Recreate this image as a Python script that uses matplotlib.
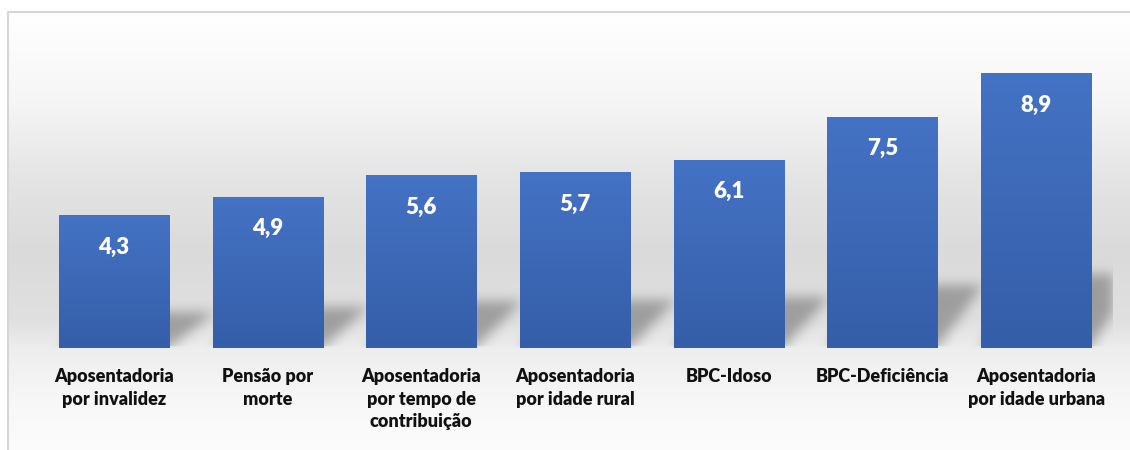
import numpy as np
import matplotlib
matplotlib.use('Agg')
import matplotlib.pyplot as plt
from matplotlib.colors import LinearSegmentedColormap

categorias = ['Aposentadoria\npor invalidez', 'Pensão por\nmorte',
              'Aposentadoria\npor tempo de\ncontribuição', 'Aposentadoria\npor idade rural',
              'BPC-Idoso', 'BPC-Deficiência', 'Aposentadoria\npor idade urbana']
valores = [4.3, 4.9, 5.6, 5.7, 6.1, 7.5, 8.9]
rotulos = ['4,3', '4,9', '5,6', '5,7', '6,1', '7,5', '8,9']

plt.rcParams['font.family'] = ['Lato', 'DejaVu Sans']

W, H = 1130, 450
fig = plt.figure(figsize=(W / 100, H / 100), dpi=100)

# fundo em gradiente vertical (branco -> cinza -> branco)
bg = fig.add_axes([0, 0, 1, 1], zorder=0)
yy = np.arange(H)
stops_y = [0, 12, 100, 180, 250, 320, 350, 400, 450]
stops_c = [255, 255, 246, 228, 218, 224, 238, 247, 252]
col = np.interp(yy, stops_y, stops_c) / 255.0
img = np.ones((H, W, 3)) * col[:, None, None]
img[:12, :, :] = 1.0
img[:, :7, :] = 1.0
bg.imshow(img, aspect='auto', extent=(0, W, H, 0), interpolation='bilinear')
bg.plot([7.5, 7.5, W], [H, 11.5, 11.5], color='#d6d6d6', lw=1.5)
bg.set_xlim(0, W)
bg.set_ylim(H, 0)
bg.axis('off')

ax = fig.add_axes([37 / W, 101.5 / H, 1076 / W, 308 / H], zorder=1)
ax.patch.set_alpha(0)
x = np.arange(len(valores))
largura = 0.716
ax.set_xlim(-0.5, len(valores) - 0.5)
ax.set_ylim(0, 10)

# sombras das barras (paralelogramos desfocados)
nx, ny = 1076, 308
gx = np.linspace(-0.5, len(valores) - 0.5, nx)
gy = np.linspace(0, 10, ny)
GX, GY = np.meshgrid(gx, gy)
mask = np.zeros((ny, nx))
for xi, v in zip(x, valores):
    hs = v * 0.27
    desl = 0.30
    t = GY / hs
    dentro = (GY >= 0) & (GY <= hs)
    x0 = xi - largura / 2 + desl * t
    x1 = xi + largura / 2 + desl * t
    mask[dentro & (GX >= x0) & (GX <= x1)] = 1.0
k = np.exp(-0.5 * (np.arange(-15, 16) / 6.0) ** 2)
k /= k.sum()
mask = np.apply_along_axis(lambda r: np.convolve(r, k, mode='same'), 1, mask)
mask = np.apply_along_axis(lambda c: np.convolve(c, k, mode='same'), 0, mask)
mask[:2, :] *= 0.3
sombra = np.zeros((ny, nx, 4))
sombra[..., :3] = 0.45
sombra[..., 3] = mask * 0.6
ax.imshow(sombra, origin='lower', aspect='auto',
          extent=(-0.5, len(valores) - 0.5, 0, 10), zorder=1)

# barras com gradiente azul
cmap = LinearSegmentedColormap.from_list('azul', ['#355ea8', '#4472c4'])
grad = np.linspace(0, 1, 256).reshape(-1, 1)
barras = ax.bar(x, valores, width=largura, color='none', zorder=2)
for b in barras:
    bx, by = b.get_x(), b.get_y()
    bw, bh = b.get_width(), b.get_height()
    ax.imshow(grad, cmap=cmap, origin='lower', aspect='auto',
              extent=(bx, bx + bw, by, by + bh), zorder=2)

for xi, v, r in zip(x, valores, rotulos):
    ax.annotate(r, (xi, v), xytext=(0, -31), textcoords='offset pixels',
                ha='center', va='center', color='white', fontsize=16, fontweight='heavy', zorder=3)

ax.set_xticks(x)
ax.set_xticklabels(categorias, fontsize=13, fontweight='heavy', color='#111111',
                   linespacing=1.4, va='top')
ax.tick_params(axis='x', length=0, pad=14)
ax.set_yticks([])
for s in ax.spines.values():
    s.set_visible(False)

fig.savefig('out.png', dpi=100)
